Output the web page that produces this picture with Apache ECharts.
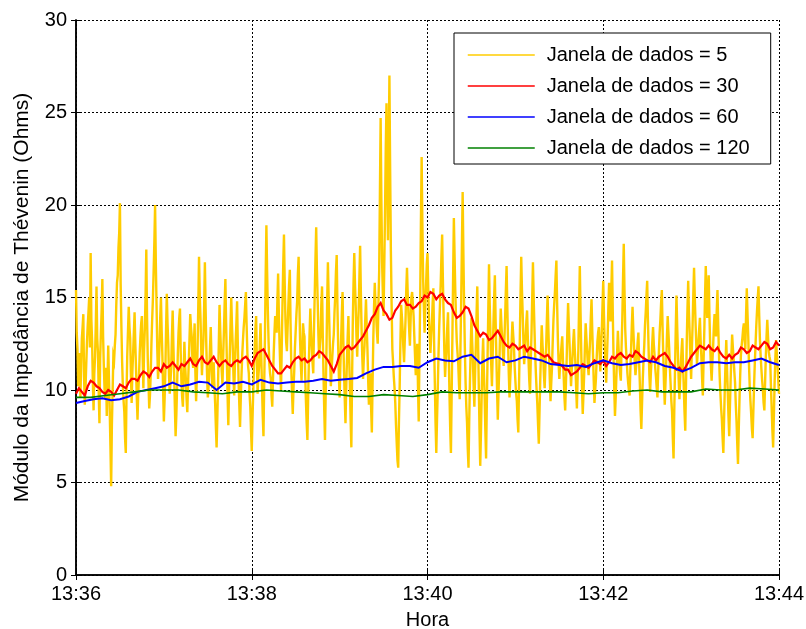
<!DOCTYPE html>
<html>
<head>
<meta charset="utf-8">
<script src="https://cdn.jsdelivr.net/npm/echarts@6/dist/echarts.min.js"></script>
<style>
  html, body { margin: 0; padding: 0; background: #fff; }
  #chart { width: 806px; height: 629px; }
</style>
</head>
<body>
<div id="chart"></div>
<script>
// Time axis: seconds after 13:36:00
const xTicks = ['13:36', '13:38', '13:40', '13:42', '13:44'];
const yTicks = [0, 5, 10, 15, 20, 25, 30];

// Window = 5 samples, taken on the whole second
const win5 = [
  15.4, 12.2, 11.0, 9.6, 12.8, 14.1, 9.2, 11.4, 13.5, 15.0,
  17.4, 12.6, 8.9, 11.8, 15.6, 12.0, 8.2, 13.1, 16.0, 11.3,
  9.5, 8.6, 12.4, 9.0, 4.8, 9.9, 11.6, 13.0, 15.8, 17.7,
  20.1, 13.4, 10.2, 8.8, 6.6, 11.9, 14.5, 12.8, 9.3, 12.0,
  14.2, 11.1, 8.4, 10.7, 12.9, 14.0, 10.1, 13.3, 17.6, 11.7,
  9.0, 10.8, 13.8, 16.4, 20.0, 14.6, 10.6, 12.4, 15.0, 11.8,
  8.3, 11.0, 15.2, 12.5, 9.8, 11.3, 14.3, 10.9, 7.5, 10.1,
  13.1, 14.4, 10.4, 9.1, 12.6, 10.6, 8.8, 11.5, 14.1, 12.9,
  11.2, 13.6, 9.4, 12.2, 17.2, 13.9, 10.8, 12.7, 16.9, 12.3,
  9.6, 11.0, 13.4, 10.1, 11.5, 9.3, 6.9, 10.4, 14.6, 12.1,
  10.3, 13.2, 16.0, 11.6, 8.1, 11.9, 15.0, 12.4, 9.7, 12.6,
  14.8, 10.5, 8.0, 10.8, 12.7, 13.9, 15.3, 12.0, 10.9, 9.1,
  6.7, 9.9, 12.2, 14.0, 9.8, 11.3, 13.6, 10.2, 7.5, 12.8,
  18.9, 14.2, 11.4, 10.6, 9.1, 12.0, 14.0, 13.1, 16.3, 12.5,
  10.0, 14.7, 18.4, 13.8, 12.1, 14.6, 16.5, 11.2, 8.7, 11.0,
  13.2, 14.8, 17.2, 12.7, 10.5, 13.6, 12.9, 9.4, 7.3, 11.5,
  14.4, 12.3, 10.9, 15.2, 18.8, 14.9, 11.7, 13.0, 15.6, 10.8,
  7.3, 12.1, 16.9, 13.5, 10.2, 11.8, 13.0, 15.1, 17.3, 12.4,
  9.6, 12.7, 15.3, 11.0, 8.2, 11.6, 14.0, 10.3, 6.9, 13.7,
  17.4, 14.5, 11.8, 14.3, 17.8, 13.2, 10.6, 12.4, 14.9, 12.2,
  9.2, 10.9, 7.7, 12.8, 15.8, 13.9, 12.5, 16.4, 24.7, 16.9,
  14.0, 19.6, 25.5, 18.1, 27.0, 17.5, 12.2, 10.7, 9.3, 7.1,
  5.8, 10.2, 14.6, 13.3, 11.5, 13.8, 16.6, 14.1, 12.4, 15.0,
  15.4, 12.9, 10.8, 12.5, 8.3, 14.8, 22.6, 16.1, 13.1, 15.6,
  17.4, 13.9, 12.0, 13.6, 15.5, 10.4, 6.6, 10.0, 13.4, 15.7,
  18.4, 14.0, 10.7, 12.3, 14.2, 9.8, 6.6, 12.9, 19.3, 15.3,
  12.6, 11.4, 9.5, 14.8, 20.7, 14.6, 10.4, 8.2, 5.8, 10.5,
  13.9, 11.6, 9.1, 12.4, 15.6, 10.3, 5.9, 9.8, 12.8, 9.7,
  6.3, 11.7, 16.8, 13.0, 10.2, 13.5, 16.2, 11.9, 8.4, 11.2,
  14.4, 12.8, 11.3, 13.9, 16.7, 12.6, 9.6, 11.5, 13.7, 12.4,
  10.5, 9.4, 7.7, 12.6, 17.2, 14.1, 11.4, 12.9, 14.3, 11.6,
  9.8, 13.0, 16.9, 13.4, 10.9, 9.2, 7.1, 10.6, 13.5, 11.8,
  10.1, 12.3, 15.1, 12.0, 9.4, 11.2, 13.8, 15.3, 17.0, 12.8,
  10.6, 11.9, 12.9, 10.7, 8.9, 11.6, 14.7, 12.5, 10.2, 11.8,
  13.3, 11.4, 9.0, 12.2, 16.7, 12.0, 8.7, 10.9, 13.6, 12.1,
  10.8, 12.7, 14.9, 11.9, 9.3, 10.6, 12.6, 13.4, 11.0, 13.2,
  15.9, 12.5, 10.4, 12.9, 15.8, 13.7, 17.0, 11.9, 8.6, 10.8,
  13.2, 11.4, 10.5, 13.8, 17.9, 13.3, 11.6, 10.4, 9.7, 12.2,
  14.5, 12.4, 10.8, 12.0, 13.1, 10.3, 7.9, 10.6, 12.4, 14.2,
  15.9, 12.1, 9.9, 11.7, 13.4, 11.9, 10.7, 9.6, 12.1, 13.8,
  15.4, 11.8, 9.2, 11.5, 14.0, 12.3, 10.3, 8.8, 6.3, 11.1,
  15.1, 12.0, 9.5, 11.4, 12.8, 10.1, 7.8, 12.6, 15.9, 13.1,
  10.6, 13.5, 16.6, 13.7, 11.4, 12.6, 13.9, 11.8, 9.7, 13.2,
  16.7, 13.9, 16.2, 12.4, 10.5, 12.3, 14.1, 12.9, 15.4, 12.0,
  9.8, 8.4, 6.6, 10.1, 12.7, 9.9, 7.5, 10.6, 13.0, 11.7,
  10.4, 8.3, 6.0, 9.4, 11.9, 12.8, 13.6, 12.2, 15.5, 12.9,
  10.2, 8.7, 7.4, 10.3, 12.5, 14.3, 15.6, 12.7, 11.1, 10.0,
  8.9, 11.8, 13.8, 12.1, 11.6, 9.0, 6.9, 10.4, 12.7, 11.3,
  9.8
];

// Window = 5 samples, taken on the half second (t + 0.5 s)
const win5Half = [
  13.1, 10.2, 12.0, 11.3, 13.4, 10.7, 10.1, 12.6, 14.2, 12.3,
  13.8, 10.4, 10.9, 13.5, 12.8, 9.9, 11.7, 14.3, 12.9, 10.0,
  11.2, 10.5, 10.6, 7.0, 8.1, 11.8, 12.4, 14.6, 16.2, 18.5,
  15.7, 11.5, 9.4, 7.4, 9.8, 13.2, 13.4, 10.8, 11.0, 13.1,
  12.5, 9.6, 9.8, 12.0, 13.6, 11.8, 12.2, 15.1, 14.0, 10.4,
  9.7, 12.5, 14.9, 18.0, 16.9, 12.2, 11.3, 13.9, 13.2, 9.9,
  9.5, 13.3, 13.6, 10.8, 10.4, 12.9, 12.4, 9.1, 8.6, 11.9,
  13.9, 12.0, 9.6, 10.9, 11.4, 9.5, 10.3, 12.8, 13.4, 11.6,
  12.5, 11.0, 10.7, 14.6, 15.1, 12.2, 11.9, 14.5, 14.4, 10.8,
  10.2, 12.3, 11.7, 10.8, 10.2, 8.0, 8.5, 12.5, 13.2, 11.0,
  11.8, 14.7, 13.6, 9.7, 10.0, 13.5, 13.5, 10.8, 11.4, 13.6,
  12.4, 9.2, 9.5, 11.9, 13.4, 14.6, 13.5, 11.3, 9.8, 7.8,
  8.4, 11.2, 13.3, 11.6, 10.7, 12.5, 11.8, 8.6, 10.3, 16.2,
  16.4, 12.6, 10.9, 9.7, 10.6, 13.1, 13.5, 14.8, 14.1, 11.1,
  12.4, 16.8, 15.8, 12.6, 13.4, 15.7, 13.6, 9.8, 10.1, 12.3,
  14.1, 16.3, 14.8, 11.4, 12.2, 13.1, 10.8, 8.2, 9.6, 13.1,
  13.2, 11.5, 13.3, 17.1, 16.5, 13.0, 12.4, 14.6, 12.9, 8.9,
  9.9, 14.8, 15.0, 11.6, 11.0, 12.5, 14.2, 16.4, 14.6, 10.7,
  11.3, 14.1, 12.8, 9.5, 10.1, 12.9, 11.8, 8.4, 10.6, 15.8,
  15.7, 12.9, 13.2, 16.1, 15.3, 11.7, 11.7, 13.8, 13.4, 10.5,
  10.1, 9.0, 10.4, 14.5, 14.6, 13.1, 14.7, 20.6, 20.3, 15.2,
  16.8, 23.1, 21.4, 22.8, 21.9, 14.6, 11.5, 10.1, 8.1, 6.2,
  8.3, 12.6, 14.0, 12.3, 12.7, 15.4, 15.2, 13.2, 13.9, 15.3,
  14.0, 11.8, 11.6, 10.2, 11.9, 19.1, 19.0, 14.5, 14.5, 16.8,
  15.5, 12.8, 12.9, 14.7, 12.6, 8.2, 8.4, 11.9, 14.6, 17.2,
  16.0, 12.1, 11.6, 13.4, 11.9, 7.9, 9.8, 16.2, 17.2, 13.8,
  12.0, 10.3, 12.3, 17.9, 17.4, 12.3, 9.1, 6.8, 8.4, 12.3,
  12.6, 10.2, 10.9, 14.1, 12.8, 7.9, 7.7, 11.6, 11.0, 7.8,
  9.2, 14.3, 14.6, 11.4, 11.9, 15.0, 13.8, 10.0, 9.9, 12.9,
  13.5, 11.9, 12.7, 15.4, 14.5, 10.9, 10.6, 12.7, 13.0, 11.3,
  9.8, 8.4, 10.3, 15.1, 15.4, 12.6, 12.1, 13.7, 12.8, 10.5,
  11.6, 15.0, 15.0, 12.0, 10.0, 8.1, 8.9, 12.1, 12.5, 10.8,
  11.3, 13.8, 13.4, 10.6, 10.4, 12.6, 14.6, 16.2, 14.7, 11.5,
  11.3, 12.4, 11.6, 9.6, 10.3, 13.3, 13.5, 11.2, 11.1, 12.6,
  12.3, 10.1, 10.7, 14.6, 14.2, 10.1, 9.8, 12.4, 12.8, 11.3,
  11.8, 13.9, 13.2, 10.5, 10.0, 11.7, 13.1, 12.1, 12.2, 14.6,
  14.0, 11.3, 11.7, 14.5, 14.9, 15.4, 14.2, 10.1, 9.6, 12.1,
  12.2, 10.9, 12.3, 16.0, 15.4, 12.3, 10.9, 10.0, 11.1, 13.5,
  13.3, 11.5, 11.3, 12.6, 11.5, 8.9, 9.3, 11.6, 13.5, 15.1,
  13.8, 10.8, 10.9, 12.6, 12.5, 11.2, 10.1, 11.0, 13.1, 14.7,
  13.4, 10.3, 10.4, 12.9, 13.1, 11.2, 9.4, 7.4, 8.9, 13.3,
  13.4, 10.6, 10.6, 12.2, 11.3, 8.8, 10.3, 14.4, 14.2, 11.7,
  12.2, 15.2, 15.0, 12.5, 12.0, 13.3, 12.7, 10.6, 11.6, 15.1,
  15.2, 15.0, 14.1, 11.3, 11.5, 13.4, 13.4, 14.3, 13.5, 10.7,
  9.0, 7.4, 8.4, 11.5, 11.2, 8.6, 9.1, 11.9, 12.3, 11.0,
  9.2, 7.1, 7.8, 10.8, 12.4, 13.3, 12.8, 14.0, 14.1, 11.4,
  9.4, 7.9, 8.9, 11.5, 13.5, 15.0, 14.0, 11.8, 10.5, 9.3,
  10.4, 12.9, 12.9, 11.8, 10.2, 7.8, 8.6, 11.7, 12.0, 10.5
];

// Window = 30 samples, one value every 2 s
const stepW30 = 2;
const win30 = [
  9.8, 10.1, 9.9, 9.7, 10.2, 10.5, 10.4, 10.2, 10.1, 9.9,
  9.8, 10.0, 9.9, 9.7, 10.0, 10.3, 10.2, 10.1, 10.4, 10.6,
  10.6, 10.5, 10.8, 11.0, 10.9, 10.7, 11.0, 11.2, 11.2, 11.0,
  11.4, 11.2, 11.3, 11.5, 11.3, 11.1, 11.4, 11.3, 11.5, 11.7,
  11.4, 11.3, 11.6, 11.8, 11.5, 11.4, 11.6, 11.8, 11.5, 11.3,
  11.5, 11.6, 11.4, 11.3, 11.5, 11.6, 11.5, 11.7, 11.8, 11.6,
  11.3, 11.7, 12.0, 12.1, 12.2, 11.9, 11.6, 11.3, 11.1, 10.9,
  10.9, 11.1, 11.3, 11.2, 11.5, 11.7, 11.8, 11.6, 11.7, 11.5,
  11.6, 11.8, 11.9, 12.1, 12.0, 11.8, 11.6, 11.3, 11.0, 11.4,
  11.9, 12.1, 12.3, 12.4, 12.2, 12.3, 12.5, 12.7, 12.9, 13.2,
  13.5, 13.9, 14.1, 14.5, 14.7, 14.3, 14.1, 13.8, 13.9, 14.3,
  14.5, 14.8, 14.9, 14.6, 14.6, 14.4, 14.5, 14.7, 14.8, 15.1,
  15.0, 15.3, 15.2, 14.9, 15.1, 15.2, 14.9, 14.7, 14.6, 14.2,
  13.9, 14.0, 14.2, 14.5, 14.4, 14.0, 13.5, 13.2, 12.9, 13.1,
  13.0, 12.7, 12.8, 13.0, 13.2, 12.9, 12.6, 12.4, 12.3, 12.5,
  12.4, 12.2, 12.3, 12.4, 12.1, 12.3, 12.2, 12.1, 12.0, 11.9,
  11.8, 11.9, 11.7, 11.5, 11.45, 11.4, 11.3, 11.1, 11.1, 10.8,
  10.9, 11.0, 11.2, 11.4, 11.3, 11.2, 11.4, 11.6, 11.5, 11.4,
  11.6, 11.3, 11.5, 11.8, 11.7, 11.9, 12.0, 11.8, 11.7, 11.9,
  11.8, 12.1, 12.0, 11.8, 11.7, 11.6, 11.5, 11.8, 11.6, 11.8,
  11.9, 12.0, 11.8, 11.5, 11.3, 11.1, 11.2, 11.0, 11.2, 11.5,
  11.8, 12.0, 12.2, 12.4, 12.3, 12.2, 12.4, 12.2, 12.1, 12.3,
  12.0, 11.8, 11.7, 11.9, 11.7, 11.9, 12.0, 12.3, 12.2, 12.0,
  12.1, 12.4, 12.3, 12.2, 12.4, 12.6, 12.5, 12.2, 12.3, 12.6,
  12.4
];

// Window = 60 samples, one value every 6 s
const stepW60 = 6;
const win60 = [
  9.3, 9.4, 9.5, 9.55, 9.45, 9.5, 9.65, 9.9, 10.0, 10.1,
  10.2, 10.4, 10.2, 10.3, 10.45, 10.4, 10.0, 10.4, 10.35, 10.45,
  10.3, 10.55, 10.4, 10.35, 10.4, 10.45, 10.45, 10.5, 10.6, 10.5,
  10.55, 10.6, 10.65, 10.9, 11.1, 11.25, 11.25, 11.3, 11.3, 11.2,
  11.5, 11.7, 11.6, 11.55, 11.8, 11.9, 11.45, 11.7, 11.8, 11.5,
  11.6, 11.8, 11.7, 11.6, 11.4, 11.35, 11.3, 11.35, 11.25, 11.45,
  11.6, 11.45, 11.35, 11.4, 11.5, 11.6, 11.5, 11.3, 11.2, 11.0,
  11.2, 11.45, 11.5, 11.5, 11.45, 11.5, 11.5, 11.6, 11.7, 11.5,
  11.35
];

// Window = 120 samples, one value every 10 s
const stepW120 = 10;
const win120 = [
  9.6, 9.6, 9.7, 9.8, 9.9, 10.0, 10.0, 10.0, 9.9, 9.85,
  9.8, 9.9, 9.9, 10.0, 9.95, 9.9, 9.85, 9.8, 9.75, 9.65,
  9.65, 9.75, 9.7, 9.65, 9.75, 9.9, 9.85, 9.85, 9.85, 9.9,
  9.9, 9.9, 9.9, 9.9, 9.85, 9.8, 9.85, 9.85, 9.95, 10.0,
  9.9, 9.9, 9.9, 10.05, 10.0, 10.0, 10.1, 10.05, 10.0
];

const seriesNames = [
  'Janela de dados = 5',
  'Janela de dados = 30',
  'Janela de dados = 60',
  'Janela de dados = 120'
];
const seriesColors = ['#FFCC00', '#FF0000', '#0000FF', '#008000'];
const seriesWidths = [2.4, 2.2, 2, 1.6];

function toPairs(values, step) {
  return values.map((v, i) => [i * step, v]);
}

// Whole-second and half-second samples merged in time order
function mergeHalfSeconds(whole, half) {
  const out = [];
  whole.forEach((v, i) => {
    out.push([i, v]);
    if (i < half.length) out.push([i + 0.5, half[i]]);
  });
  return out;
}

const FONT = "'Liberation Sans', Arial, sans-serif";
const chart = echarts.init(document.getElementById('chart'), null, { renderer: 'canvas' });

const frameAxisCommon = {
  min: 0,
  axisLine: { show: true, lineStyle: { color: '#000', width: 1.5 } },
  axisTick: { show: true, inside: true, length: 5, lineStyle: { color: '#000', width: 1 } },
  splitLine: { show: false },
  axisLabel: { show: false }
};

const seriesData = [
  mergeHalfSeconds(win5, win5Half),
  toPairs(win30, stepW30),
  toPairs(win60, stepW60),
  toPairs(win120, stepW120)
];

const lineSeries = seriesData.map((data, i) => ({
  name: seriesNames[i],
  type: 'line',
  symbol: 'none',
  sampling: undefined,
  data: data,
  lineStyle: { color: seriesColors[i], width: seriesWidths[i], join: 'miter' },
  itemStyle: { color: seriesColors[i] }
}));

chart.setOption({
  animation: false,
  backgroundColor: '#fff',
  grid: {
    left: 76, right: 27, top: 20, bottom: 54,
    show: false, containLabel: false, outerBoundsMode: 'none'
  },
  legend: {
    orient: 'vertical',
    left: 454,
    top: 33,
    backgroundColor: '#fff',
    borderColor: '#000',
    borderWidth: 1,
    borderRadius: 0,
    padding: [12, 21, 6, 13],
    itemWidth: 67,
    itemHeight: 14,
    itemGap: 11,
    itemStyle: { opacity: 0 },
    lineStyle: { width: 1.5 },
    textStyle: { fontFamily: FONT, fontSize: 20, color: '#000', padding: [0, 0, 0, 7] },
    data: seriesNames
  },
  xAxis: [
    {
      type: 'value',
      min: 0,
      max: 480,
      interval: 120,
      name: 'Hora',
      nameLocation: 'middle',
      nameGap: 35,
      nameTextStyle: { fontFamily: FONT, fontSize: 20, color: '#000' },
      axisLine: { show: true, onZero: false, lineStyle: { color: '#000', width: 1.5 } },
      axisTick: { show: true, inside: true, length: 5, lineStyle: { color: '#000' } },
      axisLabel: {
        fontFamily: FONT, fontSize: 20, color: '#000', margin: 9,
        formatter: v => xTicks[Math.round(v / 120)]
      },
      splitLine: { show: true, lineStyle: { color: '#000', width: 1, type: [2, 2] } }
    },
    Object.assign({}, frameAxisCommon, {
      type: 'value', position: 'top', max: 480, interval: 120
    })
  ],
  yAxis: [
    {
      type: 'value',
      min: 0,
      max: 30,
      interval: 5,
      name: 'Módulo da Impedância de Thévenin (Ohms)',
      nameLocation: 'middle',
      nameGap: 43,
      nameTextStyle: { fontFamily: FONT, fontSize: 21, color: '#000' },
      axisLine: { show: true, onZero: false, lineStyle: { color: '#000', width: 1.5 } },
      axisTick: { show: true, inside: true, length: 5, lineStyle: { color: '#000' } },
      axisLabel: {
        fontFamily: FONT, fontSize: 20, color: '#000', margin: 9,
        formatter: v => String(yTicks[Math.round(v / 5)])
      },
      splitLine: { show: true, lineStyle: { color: '#000', width: 1, type: [2, 2] } }
    },
    Object.assign({}, frameAxisCommon, {
      type: 'value', position: 'right', max: 30, interval: 5
    })
  ],
  series: lineSeries
});
</script>
</body>
</html>
